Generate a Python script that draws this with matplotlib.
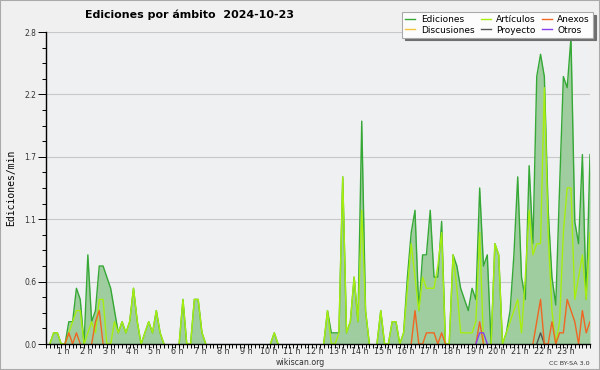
import numpy as np
import matplotlib.pyplot as plt
from matplotlib.lines import Line2D
from matplotlib.patches import Rectangle

# edits per minute, 10-minute bins, one row per hour (0 h .. 23 h)
ediciones = [
    [0, 0, 0.1, 0.1, 0, 0],
    [0.2, 0.2, 0.5, 0.4, 0, 0.8],
    [0.2, 0.3, 0.7, 0.7, 0.6, 0.5],
    [0.3, 0.1, 0.2, 0.1, 0.2, 0.5],
    [0.2, 0, 0.1, 0.2, 0.1, 0.3],
    [0.1, 0, 0, 0, 0, 0],
    [0.4, 0, 0, 0.4, 0.4, 0.1],
    [0, 0, 0, 0, 0, 0],
    [0, 0, 0, 0, 0, 0],
    [0, 0, 0, 0, 0, 0],
    [0.1, 0, 0, 0, 0, 0],
    [0, 0, 0, 0, 0, 0],
    [0, 0, 0.3, 0.1, 0.1, 0.1],
    [1.5, 0.1, 0.2, 0.6, 0.2, 2.0],
    [0.3, 0, 0, 0, 0.3, 0],
    [0, 0.2, 0.2, 0, 0.1, 0.6],
    [1.0, 1.2, 0.3, 0.8, 0.8, 1.2],
    [0.6, 0.6, 1.1, 0, 0, 0.8],
    [0.7, 0.5, 0.4, 0.3, 0.5, 0.4],
    [1.4, 0.7, 0.8, 0, 0.9, 0.8],
    [0, 0.1, 0.3, 0.8, 1.5, 0.6],
    [0.4, 1.6, 0.9, 2.4, 2.6, 2.4],
    [1.2, 0.6, 0.35, 1.4, 2.4, 2.3],
    [2.75, 1.1, 0.9, 1.7, 0.4, 1.7],
]
articulos = [
    [0, 0, 0.1, 0.1, 0, 0],
    [0.1, 0.2, 0.3, 0.3, 0, 0.1],
    [0.2, 0.1, 0.4, 0.4, 0, 0],
    [0.2, 0.1, 0.2, 0.1, 0.2, 0.5],
    [0.2, 0, 0.1, 0.2, 0.1, 0.3],
    [0.1, 0, 0, 0, 0, 0],
    [0.4, 0, 0, 0.4, 0.4, 0.1],
    [0, 0, 0, 0, 0, 0],
    [0, 0, 0, 0, 0, 0],
    [0, 0, 0, 0, 0, 0],
    [0.1, 0, 0, 0, 0, 0],
    [0, 0, 0, 0, 0, 0],
    [0, 0, 0.3, 0, 0, 0.1],
    [1.5, 0.1, 0.2, 0.6, 0.2, 1.2],
    [0.3, 0, 0, 0, 0.3, 0],
    [0, 0.2, 0.2, 0, 0.1, 0.5],
    [0.9, 0.6, 0.3, 0.6, 0.5, 0.5],
    [0.5, 0.7, 1.0, 0, 0, 0.8],
    [0.5, 0.1, 0.1, 0.1, 0.1, 0.2],
    [1.0, 0, 0, 0, 0.9, 0.8],
    [0, 0.1, 0.2, 0.3, 0.4, 0.1],
    [0.6, 1.2, 0.8, 0.9, 0.9, 2.3],
    [1.0, 0.3, 0, 0.2, 1.0, 1.4],
    [1.4, 0.4, 0.6, 0.8, 0.4, 1.0],
]
anexos = [
    [0, 0, 0, 0, 0, 0],
    [0.1, 0, 0.1, 0, 0, 0],
    [0, 0.2, 0.3, 0, 0, 0],
    [0, 0, 0, 0, 0, 0],
    [0, 0, 0, 0, 0, 0],
    [0, 0, 0, 0, 0, 0],
    [0, 0, 0, 0, 0, 0],
    [0, 0, 0, 0, 0, 0],
    [0, 0, 0, 0, 0, 0],
    [0, 0, 0, 0, 0, 0],
    [0, 0, 0, 0, 0, 0],
    [0, 0, 0, 0, 0, 0],
    [0, 0, 0, 0, 0, 0],
    [0, 0, 0, 0, 0, 0],
    [0, 0, 0, 0, 0, 0],
    [0, 0, 0, 0, 0, 0],
    [0, 0.3, 0, 0, 0.1, 0.1],
    [0.1, 0, 0.1, 0, 0, 0],
    [0, 0, 0, 0, 0, 0],
    [0.2, 0, 0, 0, 0, 0],
    [0, 0, 0, 0, 0, 0],
    [0, 0, 0, 0.2, 0.4, 0],
    [0, 0.2, 0, 0.1, 0.1, 0.4],
    [0.3, 0.2, 0, 0.3, 0.1, 0.2],
]
discusiones = [[0] * 6 for _ in range(24)]
proyecto = [[0] * 6 for _ in range(24)]
proyecto[21] = [0, 0, 0, 0, 0.1, 0]
otros = [[0] * 6 for _ in range(24)]
otros[19] = [0.1, 0.1, 0, 0, 0, 0]

hour_labels = [f"{h} h" for h in range(1, 24)]
y_ticks = [0, 0.56, 1.12, 1.68, 2.24, 2.8]
y_labels = ["0.0", "0.6", "1.1", "1.7", "2.2", "2.8"]


def flat(rows):
    return np.array(rows, dtype=float).ravel()


def hide_flat_zero(v):
    # do not draw the zero runs, they sit under the axis in the original
    z = v == 0
    prev = np.r_[True, z[:-1]]
    nxt = np.r_[z[1:], True]
    out = v.copy()
    out[z & prev & nxt] = np.nan
    return out


x = np.arange(144)
total = flat(ediciones)

fig = plt.figure(figsize=(6, 3.7), dpi=100, facecolor="#f0f0f0")
ax = fig.add_axes([46 / 600, 26 / 370, 544 / 600, 312 / 370])
ax.set_facecolor("#eef0f2")
ax.set_xlim(0, 143)
ax.set_ylim(0, 2.8)

ax.fill_between(x, total, color="#9fcd9f", lw=0, zorder=1)
ax.plot(x, hide_flat_zero(total), color="#35a835", lw=1.0, zorder=2)

series = [
    (discusiones, "#f2c53d"),
    (articulos, "#a6ee10"),
    (proyecto, "#555555"),
    (anexos, "#ee6622"),
    (otros, "#8840ee"),
]
for rows, col in series:
    ax.plot(x, hide_flat_zero(flat(rows)), color=col, lw=1.0, zorder=2)

ax.set_yticks(y_ticks)
ax.set_yticklabels(y_labels)
ax.set_yticks(np.arange(0, 2.81, 0.14), minor=True)
ax.yaxis.grid(True, color="#c8c8c8", lw=0.8)
ax.set_axisbelow(True)

ax.set_xticks(np.arange(1, 24) * 6 - 1.4)
ax.set_xticklabels(hour_labels)
ax.set_xticks(x, minor=True)

ax.tick_params(axis="y", which="major", length=6, width=0.7, labelsize=5.5, pad=1, labelcolor="#333333")
ax.tick_params(axis="y", which="minor", length=3, width=0.7)
ax.tick_params(axis="x", which="major", length=0, labelsize=5.8, pad=2, labelcolor="#333333")
ax.tick_params(axis="x", which="minor", length=3, width=0.7)

for s in ["top", "right"]:
    ax.spines[s].set_visible(False)
for s in ["left", "bottom"]:
    ax.spines[s].set_linewidth(1.0)
    ax.spines[s].set_zorder(3)

ax.set_ylabel("Ediciones/min", family="DejaVu Sans Mono", fontsize=7, labelpad=6)

fig.text(85 / 600, 1 - 18.5 / 370, "Ediciones por ámbito  2024-10-23",
         fontsize=7.9, fontweight="bold", va="baseline", ha="left")
fig.text(300 / 600, 1 - 365 / 370, "wikiscan.org", fontsize=5.7, ha="center",
         va="baseline", color="#333333")
fig.text(590 / 600, 1 - 365 / 370, "CC BY-SA 3.0", fontsize=4.6, ha="right",
         va="baseline", color="#333333")

handles = [
    Line2D([], [], color="#35a835", lw=1),
    Line2D([], [], color="#f2c53d", lw=1),
    Line2D([], [], color="#a6ee10", lw=1),
    Line2D([], [], color="#555555", lw=1),
    Line2D([], [], color="#ee6622", lw=1),
    Line2D([], [], color="#8840ee", lw=1),
]
labels = ["Ediciones", "Discusiones", "Artículos", "Proyecto", "Anexos", "Otros"]
leg = fig.legend(handles, labels, ncol=3, loc="upper right",
                 bbox_to_anchor=(593 / 600, 1 - 12 / 370), fontsize=6.5,
                 fancybox=False, shadow={"color": "#6e6e6e", "alpha": 1},
                 handlelength=1.1, handletextpad=0.6, columnspacing=0.7,
                 labelspacing=0.15, borderpad=0.35, borderaxespad=0)
leg.get_frame().set_edgecolor("#aaaaaa")
leg.get_frame().set_facecolor("#fcfcfc")
leg.get_frame().set_linewidth(0.8)

fig.patches.append(Rectangle((0, 0), 1, 1, transform=fig.transFigure,
                             fill=False, edgecolor="#aaaaaa", lw=1.5))

fig.savefig("out.png", dpi=100, facecolor=fig.get_facecolor())
